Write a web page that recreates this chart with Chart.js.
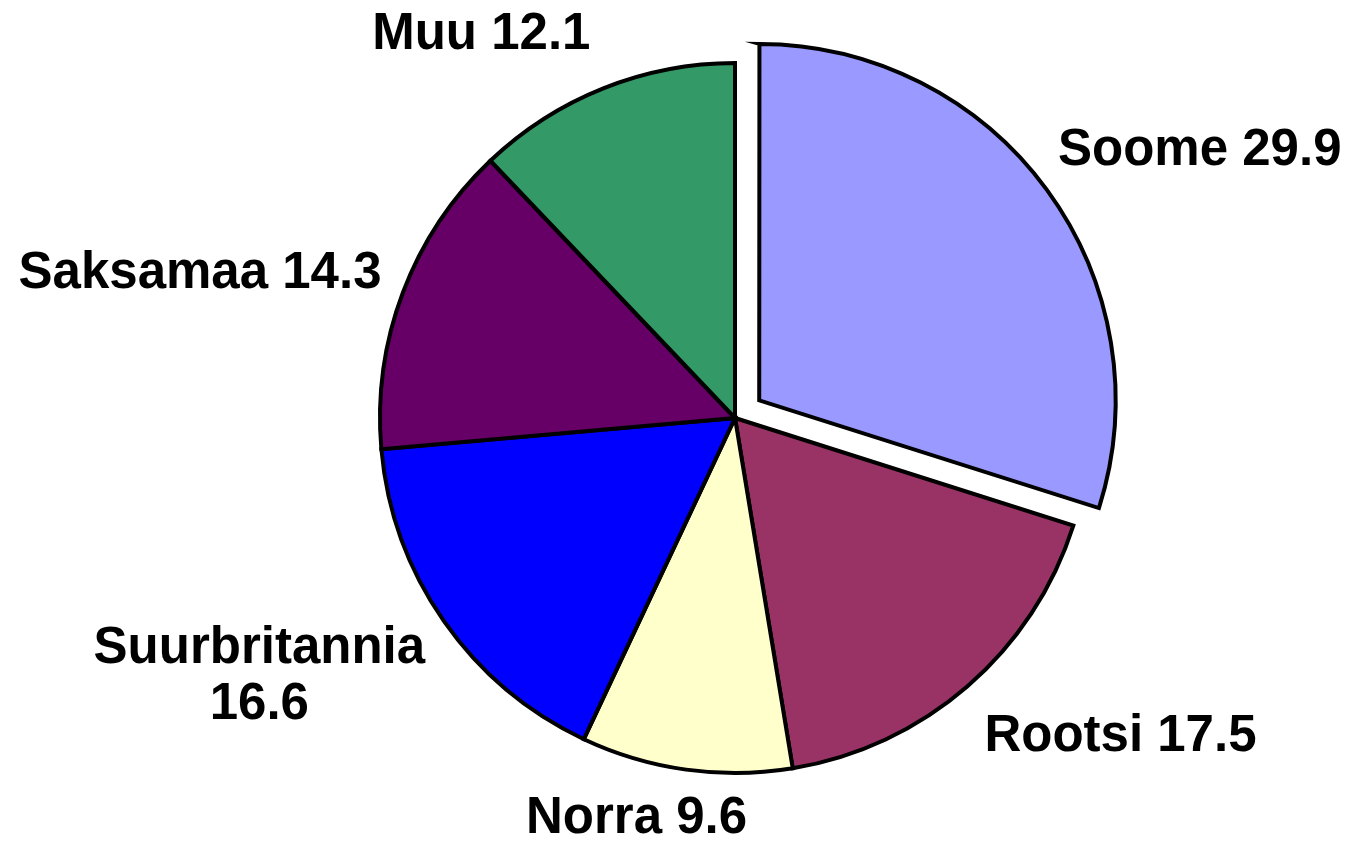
<!DOCTYPE html>
<html>
<head>
<meta charset="utf-8">
<script src="https://cdn.jsdelivr.net/npm/chart.js@4.4.0/dist/chart.umd.min.js"></script>
<style>
  html, body { margin: 0; padding: 0; background: #fff; }
  #wrap { width: 1352px; height: 843px; position: relative; }
</style>
</head>
<body>
<div id="wrap"><canvas id="pie"></canvas></div>
<script>
const countries = ['Soome', 'Rootsi', 'Norra', 'Suurbritannia', 'Saksamaa', 'Muu'];
const shares = [29.9, 17.5, 9.6, 16.6, 14.3, 12.1];
const sliceColors = ['#9999FF', '#993366', '#FFFFCC', '#0000FF', '#660066', '#339966'];
// pulled-out distance in px (chart.js v4 arcs move offset/4)
const explode = [30, 0, 0, 0, 0, 0];

// label layout: nudge from the anchor on the slice bisector, and line breaks
const labelNudge = [[-20, -16], [-9, 20], [-44, 10], [14, 33], [16, -4], [2, -16]];
const labelLines = [null, null, null, 2, null, null];

const pieLabels = {
  id: 'pieLabels',
  afterDatasetsDraw(chart) {
    const ctx = chart.ctx;
    const meta = chart.getDatasetMeta(0);
    ctx.save();
    ctx.font = 'bold 51px "Liberation Sans", Arial, sans-serif';
    ctx.fillStyle = '#000';
    ctx.textBaseline = 'middle';
    meta.data.forEach((arc, i) => {
      const p = arc.getProps(['x', 'y', 'startAngle', 'endAngle', 'outerRadius'], true);
      const mid = (p.startAngle + p.endAngle) / 2;
      const r = p.outerRadius + 40 + explode[i];
      const c = Math.cos(mid), s = Math.sin(mid);
      let x = p.x + r * c + labelNudge[i][0];
      let y = p.y + r * s + labelNudge[i][1];
      const lines = labelLines[i] ? [countries[i], String(shares[i])] : [countries[i] + ' ' + shares[i]];
      const lh = 56;
      const w = Math.max(...lines.map(t => ctx.measureText(t).width));
      let cx;
      if (c > 0.3) cx = x + w / 2;
      else if (c < -0.3) cx = x - w / 2;
      else cx = x;
      ctx.textAlign = 'center';
      lines.forEach((t, k) => {
        ctx.fillText(t, cx, y + (k - (lines.length - 1) / 2) * lh);
      });
    });
    ctx.restore();
  }
};

new Chart(document.getElementById('pie'), {
  type: 'pie',
  data: {
    labels: countries,
    datasets: [{
      data: shares,
      backgroundColor: sliceColors,
      borderColor: '#000',
      borderWidth: 4,
      borderJoinStyle: 'miter',
      offset: explode.map(v => v * 4)
    }]
  },
  options: {
    responsive: true,
    maintainAspectRatio: false,
    animation: false,
    radius: 355,
    layout: { padding: { left: 118, right: 0, top: 0, bottom: 7 } },
    plugins: {
      legend: { display: false },
      tooltip: { enabled: false }
    }
  },
  plugins: [pieLabels]
});
</script>
</body>
</html>
